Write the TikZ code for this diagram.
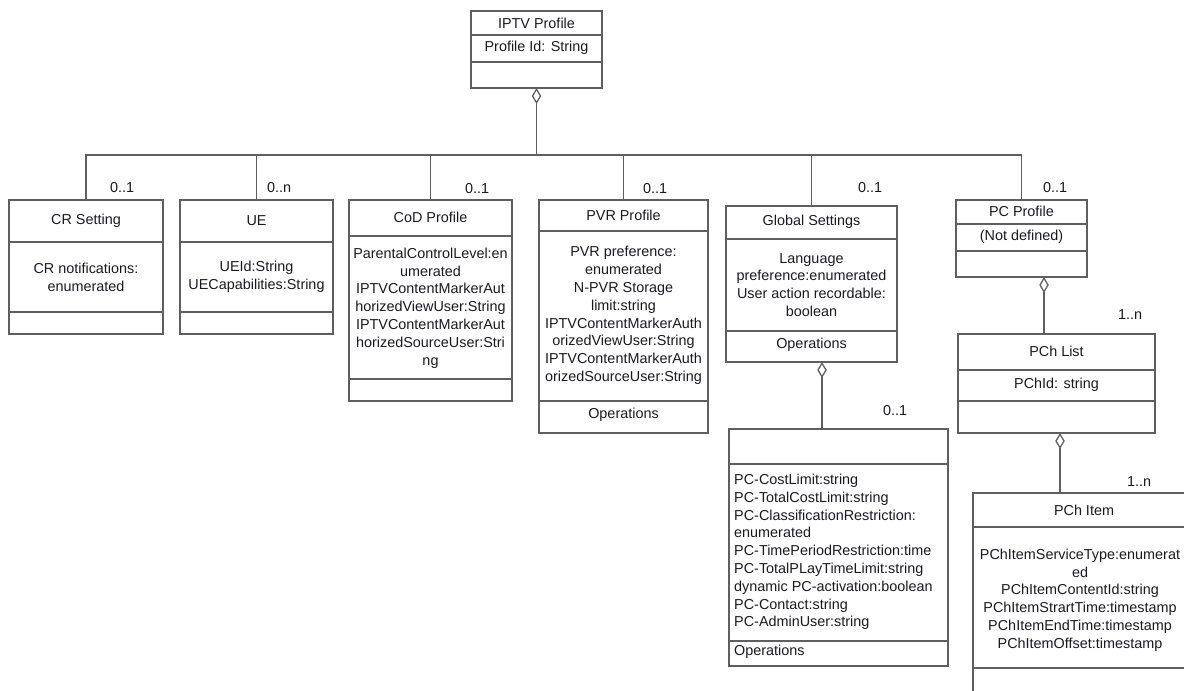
\documentclass[tikz,border=0pt]{standalone}
\usepackage{fontspec}
\setmainfont{Liberation Sans}
\usetikzlibrary{arrows.meta}
\definecolor{umlline}{RGB}{95,95,95}
\definecolor{umltext}{RGB}{25,25,35}
% class box: name, left, top, right, bottom, first divider, second divider
\newcommand\umlclass[7]{%
  \node[box, minimum width={#4-#2}, minimum height={#5-#3}, anchor=north west] (#1) at (#2,#3) {};
  \draw[wire] (#2,#6) -- (#4,#6);
  \draw[wire] (#2,#7) -- (#4,#7);
}
\begin{document}
\begin{tikzpicture}[x=1pt,y=-1pt,
  box/.style={draw=umlline, line width=1.3pt, inner sep=0pt, outer sep=0pt, rectangle},
  wire/.style={draw=umlline, line width=1.3pt},
  agg/.style={wire, {Diamond[open,length=16pt,width=9.5pt]}-},
  txt/.style={text=umltext, inner sep=0pt, align=center, font=\fontsize{14.4}{17.8}\selectfont},
  txtl/.style={txt, align=left, anchor=west},
  mult/.style={text=umltext, inner sep=0pt, anchor=west, font=\fontsize{14.4}{17.8}\selectfont},
]
\useasboundingbox (0,0) rectangle (1184,691);
\begin{scope}
\clip (0,0) rectangle (1184,691);

% root class
\umlclass{iptv}{471}{11}{602}{88}{35}{62}
\node[txt] (iptvT) at (536.5,23) {IPTV Profile};
\node[txt] (iptvA) at (536.5,48) {Profile Id: String};

% first level classes
\umlclass{cr}{9}{200}{163}{334}{242}{312}
\node[txt] (crT) at (86,221) {CR Setting};
\node[txt] (crA) at (86,277) {CR notifications:\\enumerated};

\umlclass{ue}{180}{200}{333}{334}{242}{312}
\node[txt] (ueT) at (256.5,221) {UE};
\node[txt] (ueA) at (256.5,277) {UEId:String\\UECapabilities:String};

\umlclass{cod}{349}{200}{512}{401}{236}{379}
\node[txt] (codT) at (430.5,217) {CoD Profile};
\node[txt] (codA) at (430.5,308) {ParentalControlLevel:en\\umerated\\IPTVContentMarkerAut\\horizedViewUser:String\\IPTVContentMarkerAut\\horizedSourceUser:Stri\\ng};

\umlclass{pvr}{539}{200}{708}{433}{231}{401}
\node[txt] (pvrT) at (623.5,215) {PVR Profile};
\node[txt] (pvrA) at (623.5,315.5) {PVR preference:\\enumerated\\N-PVR Storage\\limit:string\\IPTVContentMarkerAuth\\orizedViewUser:String\\IPTVContentMarkerAuth\\orizedSourceUser:String};
\node[txt] (pvrO) at (623.5,415) {Operations};

\umlclass{gs}{726}{206}{897}{362}{239}{331}
\node[txt] (gsT) at (811.5,222) {Global Settings};
\node[txt] (gsA) at (811.5,285) {Language\\preference:enumerated\\User action recordable:\\boolean};
\node[txt] (gsO) at (811.5,345) {Operations};

\umlclass{pcp}{956}{200}{1087}{277}{224}{251}
\node[txt] (pcpT) at (1021.5,211) {PC Profile};
\node[txt] (pcpA) at (1021.5,237) {(Not defined)};

% second level classes
\umlclass{pca}{729}{429}{948}{666}{464}{641}
\node[txtl] (pcaA) at (734,552) {PC-CostLimit:string\\PC-TotalCostLimit:string\\PC-ClassificationRestriction:\\enumerated\\PC-TimePeriodRestriction:time\\PC-TotalPLayTimeLimit:string\\dynamic PC-activation:boolean\\PC-Contact:string\\PC-AdminUser:string};
\node[txtl] (pcaO) at (734,652) {Operations};

\umlclass{pchl}{958}{334}{1155}{433}{370}{401}
\node[txt] (pchlT) at (1056.5,351) {PCh List};
\node[txt] (pchlA) at (1056.5,385) {PChId: string};

\umlclass{pchi}{973}{493}{1192}{700}{527}{668}
\node[txt] (pchiT) at (1084,510) {PCh Item};
\node[txt] (pchiA) at (1080,600) {PChItemServiceType:enumerat\\ed\\PChItemContentId:string\\PChItemStrartTime:timestamp\\PChItemEndTime:timestamp\\PChItemOffset:timestamp};

% aggregation tree
\coordinate (bus) at (0,155);
\draw[agg] (iptv.south) -- (iptv.south |- bus);
\draw[wire] (cr.north) -- (cr.north |- bus) -- (pcp.north |- bus) -- (pcp.north);
\draw[wire] (ue.north) -- (ue.north |- bus);
\draw[wire] (cod.north) -- (cod.north |- bus);
\draw[wire] (pvr.north) -- (pvr.north |- bus);
\draw[wire] (gs.north) -- (gs.north |- bus);

\coordinate (gx) at (822,0);
\draw[agg] (gs.south -| gx) -- (pca.north -| gx);
\coordinate (px) at (1044,0);
\draw[agg] (pcp.south -| px) -- (pchl.north -| px);
\coordinate (lx) at (1060,0);
\draw[agg] (pchl.south -| lx) -- (pchi.north -| lx);

% multiplicities
\node[mult] (mcr) at (110,188) {0..1};
\node[mult] (mue) at (267,188) {0..n};
\node[mult] (mcod) at (465,189) {0..1};
\node[mult] (mpvr) at (643,189) {0..1};
\node[mult] (mgs) at (858,188) {0..1};
\node[mult] (mpcp) at (1043,188) {0..1};
\node[mult] (mpca) at (883,411) {0..1};
\node[mult] (mpchl) at (1118,315) {1..n};
\node[mult] (mpchi) at (1127,482) {1..n};
\end{scope}
\end{tikzpicture}
\end{document}
